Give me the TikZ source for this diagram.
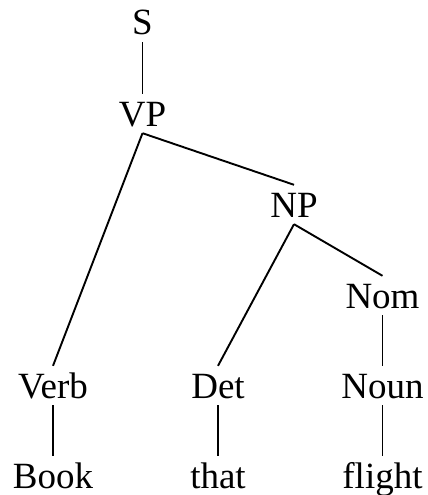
\documentclass[tikz,border=0pt]{standalone}
\usepackage{fontspec}
\setmainfont{Liberation Serif}
\begin{document}
\begin{tikzpicture}[x=1pt,y=-1pt,
  lab/.style={anchor=base,inner xsep=0pt,inner ysep=7pt,text height=25pt,text depth=0pt,font=\fontsize{37}{40}\selectfont},
  edge/.style={line width=1.9pt}]
\useasboundingbox (0,0) rectangle (428,495);
\node[lab] (S) at (142.5,35) {S};
\node[lab] (VP) at (142.5,126) {VP};
\node[lab] (NP) at (294,217) {NP};
\node[lab] (Nom) at (382.5,308) {Nom};
\node[lab] (Verb) at (53,398) {Verb};
\node[lab] (Det) at (218,398) {Det};
\node[lab] (Noun) at (382.5,398) {Noun};
\node[lab] (Book) at (53,488) {Book};
\node[lab] (that) at (218,488) {that};
\node[lab] (flight) at (382.5,488) {flight};
\draw[edge] (S.south) -- (VP.north);
\draw[edge] (VP.south) -- (Verb.north);
\draw[edge] (VP.south) -- (NP.north);
\draw[edge] (NP.south) -- (Det.north);
\draw[edge] (NP.south) -- (Nom.north);
\draw[edge] (Nom.south) -- (Noun.north);
\draw[edge] (Verb.south) -- (Book.north);
\draw[edge] (Det.south) -- (that.north);
\draw[line width=1.3pt] (Noun.south) -- (flight.north);
\end{tikzpicture}
\end{document}
